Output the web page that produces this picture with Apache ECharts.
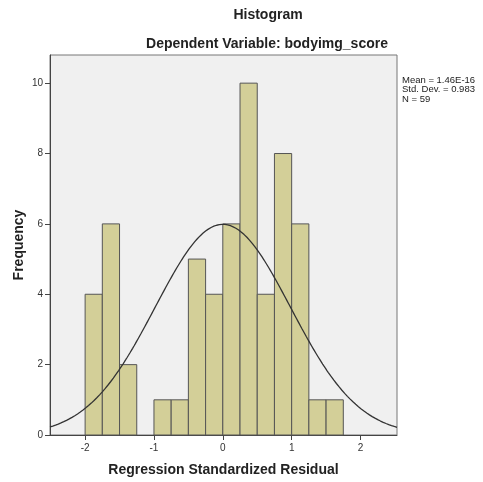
<!DOCTYPE html>
<html><head><meta charset="utf-8">
<script src="https://cdn.jsdelivr.net/npm/echarts@6/dist/echarts.min.js"></script>
<style>html,body{margin:0;padding:0;background:#fff}#c{width:483px;height:482px}</style>
</head><body><div id="c"></div>
<script>
// Histogram bins (lower edge, upper edge) and frequencies
const binStarts = [-2.0,-1.75,-1.5,-1.25,-1.0,-0.75,-0.5,-0.25,0.0,0.25,0.5,0.75,1.0,1.25,1.5];
const binWidth = 0.25;
const frequencies = [4,6,2,0,1,1,5,4,6,10,4,8,6,1,1];
const xTicks = [-2,-1,0,1,2];
const yTicks = [0,2,4,6,8,10];
const statMean = 1.46e-16;
const statSD = 0.983;
const statN = 59;
const statLabels = ['Mean = 1.46E-16','Std. Dev. = 0.983','N = 59'];

const barData = binStarts.map((s,i)=>[s, s+binWidth, frequencies[i]]).filter(d=>d[2]>0);
// fitted normal curve from stated Mean / SD / N
const curve = [];
for (let x=-2.51; x<=2.531; x+=0.02) {
  const z=(x-statMean)/statSD;
  curve.push([x, statN*binWidth*Math.exp(-0.5*z*z)/(statSD*Math.sqrt(2*Math.PI))]);
}

const chart = echarts.init(document.getElementById('c'));
const font = 'Arial, "Liberation Sans", sans-serif';
chart.setOption({
  animation:false,
  backgroundColor:'#fff',
  title:[
    {text:'Histogram', left:263, top:3, textAlign:'center', textStyle:{fontFamily:font,fontSize:14,fontWeight:'bold',color:'#222'}},
    {text:'Dependent Variable: bodyimg_score', left:262, top:32, textAlign:'center', textStyle:{fontFamily:font,fontSize:14,fontWeight:'bold',color:'#222'}}
  ],
  grid:{left:50,top:55,right:86,bottom:47,outerBoundsMode:'none',containLabel:false,show:true,backgroundColor:'#f0f0f0',borderColor:'#777',borderWidth:1},
  xAxis:{type:'value',min:-2.51,max:2.53,
    name:'Regression Standardized Residual',nameLocation:'middle',nameGap:28,nameMoveOverlap:false,
    nameTextStyle:{fontFamily:font,fontSize:14,fontWeight:'bold',color:'#222'},
    axisLine:{show:true,onZero:false,lineStyle:{color:'#444',width:1}},
    axisTick:{show:true,length:5,lineStyle:{color:'#444'},customValues:xTicks},
    axisLabel:{fontFamily:font,fontSize:10,color:'#333',margin:8,customValues:xTicks},
    splitLine:{show:false}},
  yAxis:{type:'value',min:0,max:10.8,
    name:'Frequency',nameLocation:'middle',nameGap:24,nameRotate:90,nameMoveOverlap:false,
    nameTextStyle:{fontFamily:font,fontSize:14,fontWeight:'bold',color:'#222'},
    axisLine:{show:true,onZero:false,lineStyle:{color:'#444',width:1}},
    axisTick:{show:true,length:5,lineStyle:{color:'#444'},customValues:yTicks},
    axisLabel:{fontFamily:font,fontSize:10,color:'#333',margin:7,customValues:yTicks},
    splitLine:{show:false}},
  series:[
    {type:'custom',data:barData,renderItem:function(params,api){
      const p0=api.coord([api.value(0),0]);
      const p1=api.coord([api.value(1),api.value(2)]);
      return {type:'rect',shape:{x:p0[0],y:p1[1],width:p1[0]-p0[0],height:p0[1]-p1[1]},
        style:{fill:'#d3cf98',stroke:'#555',lineWidth:1}};
    },encode:{x:[0,1],y:2},z:2},
    {type:'line',data:curve,showSymbol:false,smooth:false,lineStyle:{color:'#333',width:1.3},z:3}
  ],
  graphic:[
    {type:'text',left:402,top:75,style:{text:statLabels.join('\n'),font:'9.5px '+font,fill:'#222',lineHeight:9.5}}
  ]
});
</script></body></html>
